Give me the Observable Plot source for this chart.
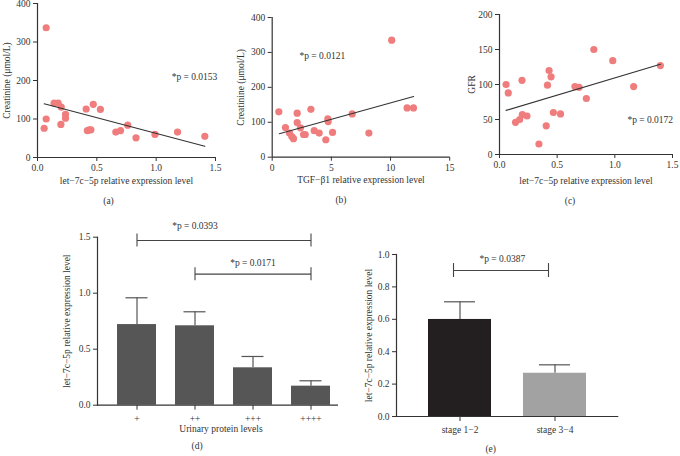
<!DOCTYPE html>
<html><head><meta charset="utf-8">
<script src="https://cdn.jsdelivr.net/npm/d3@7"></script>
<script src="https://cdn.jsdelivr.net/npm/@observablehq/plot@0.6"></script>
<style>
body{margin:0;background:#fff;}
#wrap{position:relative;width:680px;height:456px;overflow:hidden;background:#fff;}
#wrap svg{position:absolute;overflow:visible;}
</style></head><body><div id="wrap"></div>
<script>
// ---------- data ----------
// (a) let-7c-5p vs creatinine
const aExpr  = [0.073,0.056,0.073,0.14,0.174,0.2,0.236,0.236,0.197,0.41,0.47,0.53,0.42,0.436,0.45,0.66,0.70,0.76,0.83,0.99,1.18,1.41];
const aCreat = [337,76,100,141,141,131,112,102,86,126,138,125,70,72,72,66,70,84,51,60,66,55];
const aFitX = [0.056, 1.41], aFitY = [139.5, 29];
// (b) TGF-β1 vs creatinine
const bTgf   = [0.56,1.12,1.46,1.66,1.8,2.11,2.11,2.39,2.65,2.79,3.27,3.55,3.97,4.53,4.7,4.73,5.1,6.76,8.17,10.1,11.4,11.94];
const bCreat = [130,85,69,59,53,126,99,84,65,65,137,76,69,50,110,102,71,124,69,335,141,141];
const bFitX = [0.6, 11.95], bFitY = [67, 174];
// (c) let-7c-5p vs GFR
const cExpr = [0.057,0.076,0.139,0.175,0.198,0.238,0.195,0.342,0.405,0.416,0.43,0.447,0.467,0.529,0.654,0.69,0.753,0.818,0.982,1.163,1.395];
const cGfr  = [100,88,46,50,57,55,106,15,41,99,120,111,60,58,97,96,80,150,134,97,127];
const cFitX = [0.057, 1.395], cFitY = [63, 129];
// (d) urinary protein levels
const dCats = ["+", "++", "+++", "++++"];
const dMean = [0.72, 0.709, 0.334, 0.17];
const dHigh = [0.959, 0.834, 0.435, 0.218];
// (e) stages
const eCats = ["stage 1\u22122", "stage 3\u22124"];
const eMean = [0.599, 0.267];
const eHigh = [0.708, 0.319];
const eFill = ["#231f20", "#a2a2a2"];
// tick labels
const ticks15 = [0, 0.5, 1.0, 1.5];
const ticks400 = [0, 100, 200, 300, 400];
const ticksB = [0, 5, 10, 15];
const ticks200 = [0, 50, 100, 150, 200];
const ticksE = [0, 0.2, 0.4, 0.6, 0.8, 1.0];
// texts
const labExpr = "let\u22127c\u22125p relative expression level";
const labCreat = "Creatinine (\u03bcmol/L)";
const labTgf = "TGF\u2212\u03b21 relative expression level";
const labGfr = "GFR";
const labUrine = "Urinary protein levels";
const notes = {
  a: [{x: 1.323, y: 208, t: "*p = 0.0153"}],
  b: [{x: 4.23, y: 289, t: "*p = 0.0121"}],
  c: [{x: 1.307, y: 50, t: "*p = 0.0172"}]
};
const dBrackets = [
  {from: "+", to: "++++", y: 1.47, t: "*p = 0.0393", ty: 1.6, at: "++"},
  {from: "++", to: "++++", y: 1.17, t: "*p = 0.0171", ty: 1.27, at: "+++"}
];
const eBracket = [{from: eCats[0], to: eCats[1], y: 0.901, t: "*p = 0.0387", ty: 0.975}];

// ---------- helpers ----------
const INK = "#333";
const DOT = "#f07d7d";
const style = {fontFamily: "'Liberation Serif','DejaVu Serif',serif", fontSize: "9.5px", color: INK, background: "transparent", overflow: "visible"};
const wrap = document.getElementById("wrap");
function place(svg, left, top) {
  svg.style.position = "absolute";
  svg.style.left = left + "px";
  svg.style.top = top + "px";
  wrap.appendChild(svg);
}
const zip = (xs, ys) => xs.map((x, i) => ({x, y: ys[i]}));
const fmt1 = d3.format(".1f");
const yLabel = (t, dx) => Plot.text([t], {frameAnchor: "left", rotate: -90, textAnchor: "middle", lineAnchor: "middle", dx, fill: INK});

function scatter({xs, ys, fx, fy, xd, yd, xt, yt, xtf, xl, yl, tag, note, m, w, h, yldx, tagdx, tagdy, xldy}) {
  return Plot.plot({
    width: w, height: h,
    marginLeft: m[0], marginRight: m[1], marginTop: m[2], marginBottom: m[3],
    style,
    x: {domain: xd}, y: {domain: yd},
    marks: [
      Plot.axisX(xt, {tickFormat: xtf, tickSize: 4, tickPadding: 3, label: null, stroke: INK}),
      Plot.axisY(yt, {tickSize: 4, tickPadding: 3, label: null, stroke: INK}),
      Plot.ruleX([xd[0]], {stroke: INK, strokeWidth: 1.2}),
      Plot.ruleY([yd[0]], {stroke: INK, strokeWidth: 1.2}),
      Plot.dot(zip(xs, ys), {x: "x", y: "y", r: 3.6, fill: DOT, stroke: "none"}),
      Plot.line(zip(fx, fy), {x: "x", y: "y", stroke: INK, strokeWidth: 1.1}),
      Plot.text(note, {x: "x", y: "y", text: "t", fill: INK}),
      Plot.text([xl], {frameAnchor: "bottom", dy: xldy, fill: INK}),
      Plot.text([tag], {frameAnchor: "bottom", dy: tagdy, dx: tagdx, fill: INK}),
      yLabel(yl, yldx)
    ]
  });
}

// (a)
place(scatter({xs: aExpr, ys: aCreat, fx: aFitX, fy: aFitY, xd: [0, 1.5], yd: [0, 400],
  xt: ticks15, yt: ticks400, xtf: fmt1, xl: labExpr, yl: labCreat, tag: "(a)", note: notes.a,
  m: [37, 15, 3, 58], w: 230, h: 215, yldx: -31, tagdx: -18, tagdy: 46, xldy: 26}), 0, 0);
// (b)
place(scatter({xs: bTgf, ys: bCreat, fx: bFitX, fy: bFitY, xd: [0, 15], yd: [0, 400],
  xt: ticksB, yt: ticks400, xtf: d3.format("d"), xl: labTgf, yl: labCreat, tag: "(b)", note: notes.b,
  m: [41.7, 10.8, 17, 58.3], w: 230, h: 215, yldx: -31, tagdx: -20, tagdy: 46, xldy: 26}), 230, 0);
// (c)
place(scatter({xs: cExpr, ys: cGfr, fx: cFitX, fy: cFitY, xd: [0, 1.5], yd: [0, 200],
  xt: ticks15, yt: ticks200, xtf: fmt1, xl: labExpr, yl: labGfr, tag: "(c)", note: notes.c,
  m: [40, 7, 14, 61], w: 220, h: 215, yldx: -28, tagdx: -16, tagdy: 49, xldy: 29}), 459, 0);

// (d)
const dData = dCats.map((c, i) => ({c, m: dMean[i], hi: dHigh[i]}));
const dEnds = dBrackets.flatMap(b => [{c: b.from, y: b.y}, {c: b.to, y: b.y}]);
place(Plot.plot({
  width: 310, height: 241,
  marginLeft: 57, marginRight: 12, marginTop: 21.7, marginBottom: 51.3,
  style,
  x: {domain: dCats, paddingInner: 0.33, paddingOuter: 0.235, align: 0.72},
  y: {domain: [0, 1.5]},
  marks: [
    Plot.axisX({tickSize: 5, tickPadding: 5, label: null, stroke: INK}),
    Plot.axisY(ticks15, {tickFormat: fmt1, tickSize: 4, tickPadding: 3, label: null, stroke: INK}),
    Plot.frame({anchor: "left", stroke: INK, strokeWidth: 1.2}),
    Plot.ruleX(dData, {x: "c", y1: "m", y2: "hi", stroke: "#555", strokeWidth: 1.2}),
    Plot.tickY(dData, {x: "c", y: "hi", stroke: "#555", strokeWidth: 1.2, insetLeft: 8.5, insetRight: 8.5}),
    Plot.barY(dData, {x: "c", y: "m", fill: "#565656"}),
    Plot.ruleY([0], {stroke: INK, strokeWidth: 1.2}),
    Plot.link(dBrackets, {x1: "from", x2: "to", y1: "y", y2: "y", stroke: "#444", strokeWidth: 1.1}),
    Plot.ruleX(dEnds, {x: "c", y1: "y", y2: "y", insetTop: -6.5, insetBottom: -6.5, stroke: "#444", strokeWidth: 1.1}),
    Plot.text(dBrackets, {x: "at", y: "ty", text: "t", fill: INK}),
    Plot.text([labUrine], {frameAnchor: "bottom", dy: 26.3, dx: 3, fill: INK}),
    Plot.text(["(d)"], {frameAnchor: "bottom", dy: 43.6, dx: -21, fill: INK}),
    yLabel(labExpr, -31)
  ]
}), 40, 215);

// (e)
const eData = eCats.map((c, i) => ({c, m: eMean[i], hi: eHigh[i], f: eFill[i]}));
const eEnds = eBracket.flatMap(b => [{c: b.from, y: b.y}, {c: b.to, y: b.y}]);
place(Plot.plot({
  width: 330, height: 241,
  marginLeft: 46, marginRight: 61.7, marginTop: 39, marginBottom: 40,
  style,
  x: {domain: eCats, paddingInner: 0.333, paddingOuter: 0.333, align: 0.5},
  y: {domain: [0, 1.0]},
  marks: [
    Plot.axisX({tickSize: 5, tickPadding: 5, label: null, stroke: INK}),
    Plot.axisY(ticksE, {tickFormat: fmt1, tickSize: 4, tickPadding: 3, label: null, stroke: INK}),
    Plot.frame({anchor: "left", stroke: INK, strokeWidth: 1.2}),
    Plot.ruleX(eData, {x: "c", y1: "m", y2: "hi", stroke: "#555", strokeWidth: 1.2}),
    Plot.tickY(eData, {x: "c", y: "hi", stroke: "#555", strokeWidth: 1.2, insetLeft: 16, insetRight: 16}),
    Plot.barY(eData, {x: "c", y: "m", fill: "f"}),
    Plot.ruleY([0], {stroke: INK, strokeWidth: 1.2}),
    Plot.link(eBracket, {x1: "from", x2: "to", y1: "y", y2: "y", dx: -6.5, stroke: "#444", strokeWidth: 1.1}),
    Plot.ruleX(eEnds, {x: "c", y1: "y", y2: "y", dx: -6.5, insetTop: -7, insetBottom: -7, stroke: "#444", strokeWidth: 1.1}),
    Plot.text(eBracket, {y: "ty", text: "t", frameAnchor: "middle", dx: -5.3, fill: INK}),
    Plot.text(["(e)"], {frameAnchor: "bottom", dy: 35.7, dx: -17, fill: INK}),
    yLabel(labExpr, -28)
  ]
}), 350, 215);
</script></body></html>
